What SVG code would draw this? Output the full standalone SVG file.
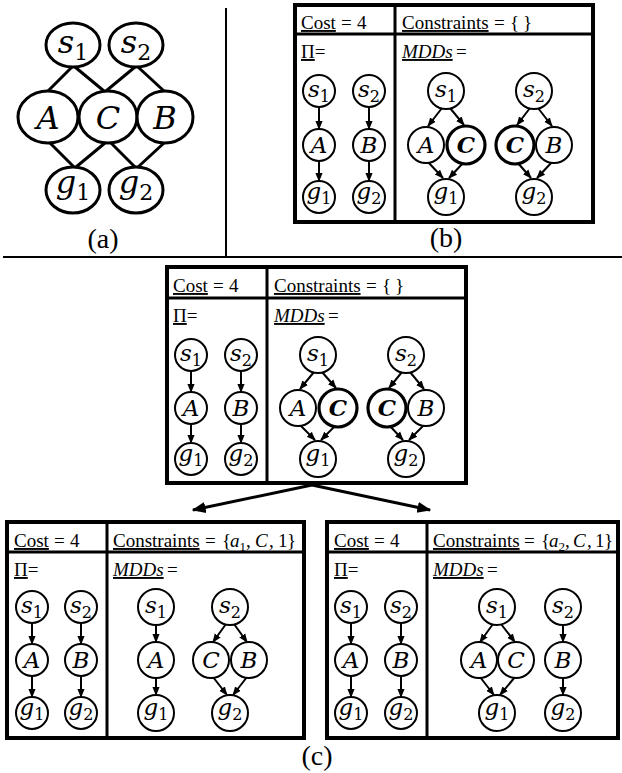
<svg xmlns="http://www.w3.org/2000/svg" width="622" height="773" viewBox="0 0 622 773">
<style>
.bx{fill:none;stroke:#000;stroke-width:4}
.dv{stroke:#000;stroke-width:3}
.sep{stroke:#000;stroke-width:2}
.n circle{fill:#fff;stroke:#000;stroke-width:2}
.nb circle{stroke-width:3.2}
.na ellipse{fill:#fff;stroke:#000;stroke-width:3}
.l{font-family:"DejaVu Serif",serif;font-style:italic;font-size:23px;text-anchor:middle}
.lb{font-weight:bold}
.s{font-style:normal;font-size:16px}
.la{font-family:"DejaVu Serif",serif;font-style:italic;font-size:32px;text-anchor:middle}
.sa{font-style:normal;font-size:22px}
.hd{font-family:"Liberation Serif",serif;font-size:19px}
.cap{font-family:"Liberation Serif",serif;font-size:28px;text-anchor:middle}
.ar{stroke:#000;stroke-width:2;fill:none;marker-end:url(#ah)}
.big{stroke:#000;stroke-width:3;fill:none;marker-end:url(#ahb)}
.ed{stroke:#000;stroke-width:3}
</style>
<defs>
<marker id="ah" viewBox="0 0 10 10" refX="9" refY="5" markerWidth="9" markerHeight="9" markerUnits="userSpaceOnUse" orient="auto"><path d="M0,1 L10,5 L0,9 z"/></marker>
<marker id="ahb" viewBox="0 0 10 10" refX="9" refY="5" markerWidth="14" markerHeight="14" markerUnits="userSpaceOnUse" orient="auto"><path d="M0,1 L10,5 L0,9 z"/></marker>
</defs>
<rect width="622" height="773" fill="#fff"/>
<!-- separators -->
<line class="sep" x1="226" y1="8" x2="226" y2="257"/>
<line class="sep" x1="3" y1="257" x2="622" y2="257"/>
<text class="cap" x="103" y="248">(a)</text>
<text class="cap" x="446" y="247">(b)</text>
<text class="cap" x="317" y="765">(c)</text>

<!-- (a) -->
<g id="graph-a">
<g id="a-edges">
<line class="ed" x1="72" y1="67" x2="48" y2="91"/>
<line class="ed" x1="75" y1="67" x2="104" y2="91"/>
<line class="ed" x1="135" y1="67" x2="106" y2="91"/>
<line class="ed" x1="138" y1="67" x2="164" y2="91"/>
<line class="ed" x1="50" y1="143" x2="74" y2="167"/>
<line class="ed" x1="105" y1="143" x2="76" y2="167"/>
<line class="ed" x1="111" y1="143" x2="135" y2="167"/>
<line class="ed" x1="164" y1="143" x2="138" y2="167"/>
</g>
<g id="a-s1" class="na"><ellipse cx="73" cy="45" rx="27" ry="22"/><text class="la" x="73" y="53">s<tspan class="sa" dy="7">1</tspan></text></g>
<g id="a-s2" class="na"><ellipse cx="136" cy="45" rx="27" ry="22"/><text class="la" x="136" y="53">s<tspan class="sa" dy="7">2</tspan></text></g>
<g id="a-A" class="na"><ellipse cx="48" cy="117" rx="30" ry="26"/><text class="la" x="48" y="129">A</text></g>
<g id="a-C" class="na"><ellipse cx="108" cy="117" rx="29" ry="26"/><text class="la" x="108" y="129">C</text></g>
<g id="a-B" class="na"><ellipse cx="165" cy="117" rx="28" ry="26"/><text class="la" x="165" y="129">B</text></g>
<g id="a-g1" class="na"><ellipse cx="73" cy="190" rx="27" ry="23"/><text class="la" x="73" y="193">g<tspan class="sa" dy="7">1</tspan></text></g>
<g id="a-g2" class="na"><ellipse cx="136" cy="190" rx="27" ry="23"/><text class="la" x="136" y="193">g<tspan class="sa" dy="7">2</tspan></text></g>
</g>

<!-- (b) -->
<g id="box-b" transform="translate(295,5)">
<rect class="bx" x="0" y="0" width="298" height="217"/>
<line class="dv" x1="0" y1="29" x2="298" y2="29"/>
<line class="dv" x1="100" y1="0" x2="100" y2="217"/>
<text class="hd" x="6" y="24"><tspan text-decoration="underline">Cost</tspan><tspan x="46">=</tspan><tspan x="62">4</tspan></text>
<text class="hd" x="107" y="24"><tspan text-decoration="underline">Constraints</tspan><tspan x="199">=</tspan><tspan x="215">{</tspan><tspan x="228">}</tspan></text>
<text class="hd" x="6" y="53"><tspan text-decoration="underline">Π</tspan>=</text>
<text class="hd" x="107" y="53"><tspan font-style="italic" text-decoration="underline">MDDs</tspan><tspan x="161">=</tspan></text>
<g class="conn">
<line class="ar" x1="24" y1="102" x2="24" y2="124"/><line class="ar" x1="24" y1="156" x2="24" y2="176"/>
<line class="ar" x1="74" y1="102" x2="74" y2="124"/><line class="ar" x1="74" y1="156" x2="74" y2="176"/>
<line class="ar" x1="147" y1="103" x2="133" y2="121"/><line class="ar" x1="155" y1="103" x2="169" y2="120"/>
<line class="ar" x1="133" y1="157" x2="148" y2="173"/><line class="ar" x1="169" y1="157" x2="154" y2="173"/>
<line class="ar" x1="235" y1="103" x2="222" y2="120"/><line class="ar" x1="243" y1="103" x2="257" y2="121"/>
<line class="ar" x1="222" y1="157" x2="236" y2="173"/><line class="ar" x1="257" y1="157" x2="242" y2="173"/>
</g>
<g id="b-p-s1" class="n"><circle cx="24" cy="86" r="16"/><text class="l" x="24" y="92">s<tspan class="s" dy="5">1</tspan></text></g>
<g id="b-p-s2" class="n"><circle cx="74" cy="86" r="16"/><text class="l" x="74" y="92">s<tspan class="s" dy="5">2</tspan></text></g>
<g id="b-p-A" class="n"><circle cx="24" cy="140" r="16"/><text class="l" x="24" y="148">A</text></g>
<g id="b-p-B" class="n"><circle cx="74" cy="140" r="16"/><text class="l" x="74" y="148">B</text></g>
<g id="b-p-g1" class="n"><circle cx="24" cy="192" r="16"/><text class="l" x="24" y="194">g<tspan class="s" dy="5">1</tspan></text></g>
<g id="b-p-g2" class="n"><circle cx="74" cy="192" r="16"/><text class="l" x="74" y="194">g<tspan class="s" dy="5">2</tspan></text></g>
<g id="b-m-s1" class="n"><circle cx="151" cy="86" r="18"/><text class="l" x="151" y="92">s<tspan class="s" dy="5">1</tspan></text></g>
<g id="b-m-A" class="n"><circle cx="131" cy="140" r="18"/><text class="l" x="131" y="148">A</text></g>
<g id="b-m-C1" class="n nb"><circle cx="171" cy="140" r="19"/><text class="l lb" x="171" y="148">C</text></g>
<g id="b-m-g1" class="n"><circle cx="151" cy="192" r="18"/><text class="l" x="151" y="194">g<tspan class="s" dy="5">1</tspan></text></g>
<g id="b-m-s2" class="n"><circle cx="239" cy="86" r="18"/><text class="l" x="239" y="92">s<tspan class="s" dy="5">2</tspan></text></g>
<g id="b-m-C2" class="n nb"><circle cx="220" cy="140" r="19"/><text class="l lb" x="220" y="148">C</text></g>
<g id="b-m-B" class="n"><circle cx="259" cy="140" r="18"/><text class="l" x="259" y="148">B</text></g>
<g id="b-m-g2" class="n"><circle cx="239" cy="192" r="18"/><text class="l" x="239" y="194">g<tspan class="s" dy="5">2</tspan></text></g>
</g>

<!-- (c) top -->
<g id="box-c-root" transform="translate(167,267)">
<rect class="bx" x="0" y="0" width="299" height="216"/>
<line class="dv" x1="0" y1="31" x2="299" y2="31"/>
<line class="dv" x1="100" y1="0" x2="100" y2="216"/>
<text class="hd" x="6" y="25"><tspan text-decoration="underline">Cost</tspan><tspan x="46">=</tspan><tspan x="62">4</tspan></text>
<text class="hd" x="107" y="25"><tspan text-decoration="underline">Constraints</tspan><tspan x="199">=</tspan><tspan x="215">{</tspan><tspan x="228">}</tspan></text>
<text class="hd" x="6" y="55"><tspan text-decoration="underline">Π</tspan>=</text>
<text class="hd" x="107" y="55"><tspan font-style="italic" text-decoration="underline">MDDs</tspan><tspan x="161">=</tspan></text>
<g class="conn">
<line class="ar" x1="24" y1="104" x2="24" y2="125"/><line class="ar" x1="24" y1="157" x2="24" y2="176"/>
<line class="ar" x1="74" y1="104" x2="74" y2="125"/><line class="ar" x1="74" y1="157" x2="74" y2="176"/>
<line class="ar" x1="147" y1="105" x2="133" y2="122"/><line class="ar" x1="155" y1="105" x2="169" y2="121"/>
<line class="ar" x1="133" y1="158" x2="148" y2="173"/><line class="ar" x1="169" y1="158" x2="154" y2="173"/>
<line class="ar" x1="235" y1="105" x2="222" y2="121"/><line class="ar" x1="243" y1="105" x2="257" y2="122"/>
<line class="ar" x1="222" y1="158" x2="236" y2="173"/><line class="ar" x1="257" y1="158" x2="242" y2="173"/>
</g>
<g id="c-p-s1" class="n"><circle cx="24" cy="88" r="16"/><text class="l" x="24" y="94">s<tspan class="s" dy="5">1</tspan></text></g>
<g id="c-p-s2" class="n"><circle cx="74" cy="88" r="16"/><text class="l" x="74" y="94">s<tspan class="s" dy="5">2</tspan></text></g>
<g id="c-p-A" class="n"><circle cx="24" cy="141" r="16"/><text class="l" x="24" y="149">A</text></g>
<g id="c-p-B" class="n"><circle cx="74" cy="141" r="16"/><text class="l" x="74" y="149">B</text></g>
<g id="c-p-g1" class="n"><circle cx="24" cy="192" r="16"/><text class="l" x="24" y="194">g<tspan class="s" dy="5">1</tspan></text></g>
<g id="c-p-g2" class="n"><circle cx="74" cy="192" r="16"/><text class="l" x="74" y="194">g<tspan class="s" dy="5">2</tspan></text></g>
<g id="c-m-s1" class="n"><circle cx="151" cy="88" r="18"/><text class="l" x="151" y="94">s<tspan class="s" dy="5">1</tspan></text></g>
<g id="c-m-A" class="n"><circle cx="131" cy="141" r="18"/><text class="l" x="131" y="149">A</text></g>
<g id="c-m-C1" class="n nb"><circle cx="171" cy="141" r="19"/><text class="l lb" x="171" y="149">C</text></g>
<g id="c-m-g1" class="n"><circle cx="151" cy="192" r="18"/><text class="l" x="151" y="194">g<tspan class="s" dy="5">1</tspan></text></g>
<g id="c-m-s2" class="n"><circle cx="239" cy="88" r="18"/><text class="l" x="239" y="94">s<tspan class="s" dy="5">2</tspan></text></g>
<g id="c-m-C2" class="n nb"><circle cx="220" cy="141" r="19"/><text class="l lb" x="220" y="149">C</text></g>
<g id="c-m-B" class="n"><circle cx="259" cy="141" r="18"/><text class="l" x="259" y="149">B</text></g>
<g id="c-m-g2" class="n"><circle cx="239" cy="192" r="18"/><text class="l" x="239" y="194">g<tspan class="s" dy="5">2</tspan></text></g>
</g>

<!-- connectors (c) -->
<g id="connectors">
<line class="big" x1="312" y1="485" x2="193" y2="510"/>
<line class="big" x1="312" y1="485" x2="430" y2="510"/>
</g>

<!-- (c) bottom left -->
<g id="box-c-left" transform="translate(7,522)">
<rect class="bx" x="0" y="0" width="297" height="216"/>
<line class="dv" x1="0" y1="30" x2="297" y2="30"/>
<line class="dv" x1="100" y1="0" x2="100" y2="216"/>
<text class="hd" x="7" y="25"><tspan text-decoration="underline">Cost</tspan><tspan x="47">=</tspan><tspan x="63">4</tspan></text>
<text class="hd" x="106" y="25"><tspan text-decoration="underline">Constraints</tspan><tspan x="198">=</tspan><tspan x="215">{</tspan><tspan x="223" font-style="italic">a</tspan><tspan font-size="13" dy="4">1</tspan><tspan x="239" dy="-4">,</tspan><tspan x="248" font-style="italic">C</tspan><tspan x="262">,</tspan><tspan x="271">1</tspan><tspan x="280">}</tspan></text>
<text class="hd" x="7" y="54"><tspan text-decoration="underline">Π</tspan>=</text>
<text class="hd" x="106" y="54"><tspan font-style="italic" text-decoration="underline">MDDs</tspan><tspan x="160">=</tspan></text>
<g class="conn">
<line class="ar" x1="25" y1="101" x2="25" y2="122"/><line class="ar" x1="25" y1="154" x2="25" y2="175"/>
<line class="ar" x1="74" y1="101" x2="74" y2="122"/><line class="ar" x1="74" y1="154" x2="74" y2="175"/>
<line class="ar" x1="149" y1="103" x2="149" y2="120"/><line class="ar" x1="149" y1="156" x2="149" y2="173"/>
<line class="ar" x1="219" y1="102" x2="206" y2="120"/><line class="ar" x1="227" y1="102" x2="240" y2="120"/>
<line class="ar" x1="206" y1="155" x2="220" y2="173"/><line class="ar" x1="240" y1="155" x2="226" y2="173"/>
</g>
<g id="l-p-s1" class="n"><circle cx="25" cy="85" r="16"/><text class="l" x="25" y="91">s<tspan class="s" dy="5">1</tspan></text></g>
<g id="l-p-s2" class="n"><circle cx="74" cy="85" r="16"/><text class="l" x="74" y="91">s<tspan class="s" dy="5">2</tspan></text></g>
<g id="l-p-A" class="n"><circle cx="25" cy="138" r="16"/><text class="l" x="25" y="146">A</text></g>
<g id="l-p-B" class="n"><circle cx="74" cy="138" r="16"/><text class="l" x="74" y="146">B</text></g>
<g id="l-p-g1" class="n"><circle cx="25" cy="191" r="16"/><text class="l" x="25" y="193">g<tspan class="s" dy="5">1</tspan></text></g>
<g id="l-p-g2" class="n"><circle cx="74" cy="191" r="16"/><text class="l" x="74" y="193">g<tspan class="s" dy="5">2</tspan></text></g>
<g id="l-m-s1" class="n"><circle cx="149" cy="85" r="18"/><text class="l" x="149" y="91">s<tspan class="s" dy="5">1</tspan></text></g>
<g id="l-m-A" class="n"><circle cx="149" cy="138" r="18"/><text class="l" x="149" y="146">A</text></g>
<g id="l-m-g1" class="n"><circle cx="149" cy="191" r="18"/><text class="l" x="149" y="193">g<tspan class="s" dy="5">1</tspan></text></g>
<g id="l-m-s2" class="n"><circle cx="223" cy="85" r="18"/><text class="l" x="223" y="91">s<tspan class="s" dy="5">2</tspan></text></g>
<g id="l-m-C" class="n"><circle cx="204" cy="138" r="18"/><text class="l" x="204" y="146">C</text></g>
<g id="l-m-B" class="n"><circle cx="242" cy="138" r="18"/><text class="l" x="242" y="146">B</text></g>
<g id="l-m-g2" class="n"><circle cx="223" cy="191" r="18"/><text class="l" x="223" y="193">g<tspan class="s" dy="5">2</tspan></text></g>
</g>

<!-- (c) bottom right -->
<g id="box-c-right" transform="translate(327,522)">
<rect class="bx" x="0" y="0" width="291" height="216"/>
<line class="dv" x1="0" y1="30" x2="291" y2="30"/>
<line class="dv" x1="100" y1="0" x2="100" y2="216"/>
<text class="hd" x="7" y="25"><tspan text-decoration="underline">Cost</tspan><tspan x="47">=</tspan><tspan x="63">4</tspan></text>
<text class="hd" x="106" y="25"><tspan text-decoration="underline">Constraints</tspan><tspan x="197">=</tspan><tspan x="214">{</tspan><tspan x="222" font-style="italic">a</tspan><tspan font-size="13" dy="4">2</tspan><tspan x="238" dy="-4">,</tspan><tspan x="246" font-style="italic">C</tspan><tspan x="260">,</tspan><tspan x="268">1</tspan><tspan x="277">}</tspan></text>
<text class="hd" x="7" y="54"><tspan text-decoration="underline">Π</tspan>=</text>
<text class="hd" x="106" y="54"><tspan font-style="italic" text-decoration="underline">MDDs</tspan><tspan x="160">=</tspan></text>
<g class="conn">
<line class="ar" x1="24" y1="101" x2="24" y2="122"/><line class="ar" x1="24" y1="154" x2="24" y2="175"/>
<line class="ar" x1="74" y1="101" x2="74" y2="122"/><line class="ar" x1="74" y1="154" x2="74" y2="175"/>
<line class="ar" x1="166" y1="102" x2="153" y2="120"/><line class="ar" x1="174" y1="102" x2="188" y2="120"/>
<line class="ar" x1="153" y1="155" x2="167" y2="173"/><line class="ar" x1="188" y1="155" x2="173" y2="173"/>
<line class="ar" x1="236" y1="103" x2="236" y2="120"/><line class="ar" x1="236" y1="156" x2="236" y2="173"/>
</g>
<g id="r-p-s1" class="n"><circle cx="24" cy="85" r="16"/><text class="l" x="24" y="91">s<tspan class="s" dy="5">1</tspan></text></g>
<g id="r-p-s2" class="n"><circle cx="74" cy="85" r="16"/><text class="l" x="74" y="91">s<tspan class="s" dy="5">2</tspan></text></g>
<g id="r-p-A" class="n"><circle cx="24" cy="138" r="16"/><text class="l" x="24" y="146">A</text></g>
<g id="r-p-B" class="n"><circle cx="74" cy="138" r="16"/><text class="l" x="74" y="146">B</text></g>
<g id="r-p-g1" class="n"><circle cx="24" cy="191" r="16"/><text class="l" x="24" y="193">g<tspan class="s" dy="5">1</tspan></text></g>
<g id="r-p-g2" class="n"><circle cx="74" cy="191" r="16"/><text class="l" x="74" y="193">g<tspan class="s" dy="5">2</tspan></text></g>
<g id="r-m-s1" class="n"><circle cx="170" cy="85" r="18"/><text class="l" x="170" y="91">s<tspan class="s" dy="5">1</tspan></text></g>
<g id="r-m-A" class="n"><circle cx="152" cy="138" r="18"/><text class="l" x="152" y="146">A</text></g>
<g id="r-m-C" class="n"><circle cx="189" cy="138" r="18"/><text class="l" x="189" y="146">C</text></g>
<g id="r-m-g1" class="n"><circle cx="170" cy="191" r="18"/><text class="l" x="170" y="193">g<tspan class="s" dy="5">1</tspan></text></g>
<g id="r-m-s2" class="n"><circle cx="236" cy="85" r="18"/><text class="l" x="236" y="91">s<tspan class="s" dy="5">2</tspan></text></g>
<g id="r-m-B" class="n"><circle cx="236" cy="138" r="18"/><text class="l" x="236" y="146">B</text></g>
<g id="r-m-g2" class="n"><circle cx="236" cy="191" r="18"/><text class="l" x="236" y="193">g<tspan class="s" dy="5">2</tspan></text></g>
</g>
</svg>
